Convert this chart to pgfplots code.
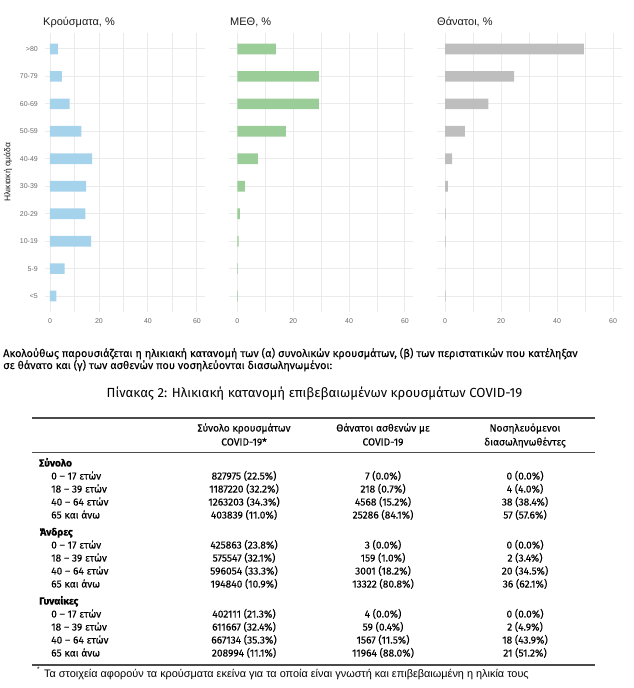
\documentclass[border=0pt]{standalone}
\usepackage{fontspec}
\setmainfont{Liberation Sans}
\newfontfamily\fira[FakeBold=0.1]{Fira Sans}
\newfontfamily\firalight{Fira Sans}
\usepackage{pgfplots}
\pgfplotsset{compat=1.18}
\usepackage{pgfplotstable}

\definecolor{cblue}{HTML}{A6D3EC}
\definecolor{cgreen}{HTML}{9BCD98}
\definecolor{cgrey}{HTML}{BEBEBE}
\definecolor{gridc}{HTML}{EBEBEB}
\definecolor{tickc}{HTML}{6A6A6A}
\definecolor{rulec}{HTML}{4A4A4A}

% age groups 0 = <5 ... 9 = >80, values in percent
\pgfplotstableread{
y cases icu deaths
0 2.6 0.2 0.2
1 6.0 0.2 0.0
2 16.8 0.5 0.2
3 14.4 0.95 0.25
4 14.8 2.7 1.0
5 17.2 7.4 2.5
6 12.8 17.4 7.1
7 8.0 29.2 15.5
8 4.8 29.2 24.7
9 3.2 13.8 49.6
}\agedata

\pgfplotsset{
  panel/.style={
    xbar, scale only axis, anchor=north west,
    height=279pt,
    ymin=-0.58, ymax=9.58,
    ytick={0,...,9},
    xtick={0,20,40,60}, minor xtick={10,30,50},
    xmajorgrids, xminorgrids, ymajorgrids,
    major grid style={color=gridc, line width=0.9pt},
    minor grid style={color=gridc, line width=0.45pt},
    axis line style={draw=none},
    major tick length=0pt, minor tick length=0pt,
    tick label style={font=\fontsize{7}{8}\selectfont, text=tickc, inner sep=0pt},
    xticklabel style={anchor=north, yshift=-6pt},
    yticklabel style={anchor=east, xshift=-7pt},
    /pgf/number format/assume math mode=true,
    bar width=10.7pt,
  },
}

\newcommand\trow[5]{%
  \node[anchor=base west] at (51,#1+3.5) {#2};
  \node[anchor=base] at (244,#1+3.5) {#3};
  \node[anchor=base] at (383,#1+3.5) {#4};
  \node[anchor=base] at (525,#1+3.5) {#5};}
\newcommand\tgroup[2]{%
  \node[anchor=base west] at (39,#1+3.5) {\bfseries #2};}

\begin{document}
\begin{tikzpicture}
\useasboundingbox (0pt,0pt) rectangle (633pt,-688pt);

\begin{axis}[panel, at={(45pt,-33pt)}, width=160pt,
  xmin=-2.04, xmax=63.3,
  yticklabels={<5,5-9,10-19,20-29,30-39,40-49,50-59,60-69,70-79,>80}]
\addplot[fill=cblue, draw=none] table[x=cases, y=y] {\agedata};
\end{axis}

\begin{axis}[panel, at={(229pt,-33pt)}, width=184pt,
  xmin=-2.97, xmax=62.9, yticklabels={}]
\addplot[fill=cgreen, draw=none] table[x=icu, y=y] {\agedata};
\end{axis}

\begin{axis}[panel, at={(437pt,-33pt)}, width=185pt,
  xmin=-2.86, xmax=63.2, yticklabels={}]
\addplot[fill=cgrey, draw=none] table[x=deaths, y=y] {\agedata};
\end{axis}

\begin{scope}[x=1pt, y=-1pt, inner sep=0pt]
  % panel titles and axis label
  \begin{scope}[font=\fontsize{11}{13}\selectfont, text={black!90}]
    \node[anchor=base west] at (43,25) {Κρούσματα, \%};
    \node[anchor=base west] at (230,25) {ΜΕΘ, \%};
    \node[anchor=base west] at (437,25) {Θάνατοι, \%};
  \end{scope}
  \node[rotate=90, font=\fontsize{8.5}{10}\selectfont, text={black!90}] at (8,172) {Ηλικιακή ομάδα};

  % paragraph
  \begin{scope}[font=\fira\fontsize{10.9}{12}\selectfont]
    \node[anchor=base west] at (3,357) {Ακολούθως παρουσιάζεται η ηλικιακή κατανομή των (α) συνολικών κρουσμάτων, (β) των περιστατικών που κατέληξαν};
    \node[anchor=base west] at (3,369) {σε θάνατο και (γ) των ασθενών που νοσηλεύονται διασωληνωμένοι:};
  \end{scope}
  \node[anchor=base, font=\firalight\fontsize{13.2}{15}\selectfont] at (314.5,397.5) {Πίνακας 2: Ηλικιακή κατανομή επιβεβαιωμένων κρουσμάτων COVID-19};

  % table
  \draw[rulec, line width=1.5pt] (32,418) -- (595,418);
  \draw[rulec, line width=1.0pt] (32,452.5) -- (595,452.5);
  \draw[rulec, line width=1.5pt] (32,665) -- (595,665);
  \begin{scope}[font=\fira\fontsize{10.2}{12}\selectfont]
    \node[anchor=base] at (244,431.5) {Σύνολο κρουσμάτων};
    \node[anchor=base] at (244,445.5) {COVID-19*};
    \node[anchor=base] at (383,431.5) {Θάνατοι ασθενών με};
    \node[anchor=base] at (383,445.5) {COVID-19};
    \node[anchor=base] at (525,431.5) {Νοσηλευόμενοι};
    \node[anchor=base] at (525,445.5) {διασωληνωθέντες};

    \tgroup{463}{Σύνολο}
    \trow{476}{0 – 17 ετών}{827975 (22.5\%)}{7 (0.0\%)}{0 (0.0\%)}
    \trow{489}{18 – 39 ετών}{1187220 (32.2\%)}{218 (0.7\%)}{4 (4.0\%)}
    \trow{502}{40 – 64 ετών}{1263203 (34.3\%)}{4568 (15.2\%)}{38 (38.4\%)}
    \trow{515}{65 και άνω}{403839 (11.0\%)}{25286 (84.1\%)}{57 (57.6\%)}

    \tgroup{532}{Άνδρες}
    \trow{545}{0 – 17 ετών}{425863 (23.8\%)}{3 (0.0\%)}{0 (0.0\%)}
    \trow{558}{18 – 39 ετών}{575547 (32.1\%)}{159 (1.0\%)}{2 (3.4\%)}
    \trow{571}{40 – 64 ετών}{596054 (33.3\%)}{3001 (18.2\%)}{20 (34.5\%)}
    \trow{584}{65 και άνω}{194840 (10.9\%)}{13322 (80.8\%)}{36 (62.1\%)}

    \tgroup{601}{Γυναίκες}
    \trow{614}{0 – 17 ετών}{402111 (21.3\%)}{4 (0.0\%)}{0 (0.0\%)}
    \trow{627}{18 – 39 ετών}{611667 (32.4\%)}{59 (0.4\%)}{2 (4.9\%)}
    \trow{640}{40 – 64 ετών}{667134 (35.3\%)}{1567 (11.5\%)}{18 (43.9\%)}
    \trow{653}{65 και άνω}{208994 (11.1\%)}{11964 (88.0\%)}{21 (51.2\%)}
  \end{scope}

  % footnote
  \node[anchor=base west, font=\fontsize{6.5}{7}\selectfont] at (37,671) {*};
  \node[anchor=base west, font=\fontsize{10.9}{12}\selectfont] at (44,677) {Τα στοιχεία αφορούν τα κρούσματα εκείνα για τα οποία είναι γνωστή και επιβεβαιωμένη η ηλικία τους};
\end{scope}
\end{tikzpicture}
\end{document}
